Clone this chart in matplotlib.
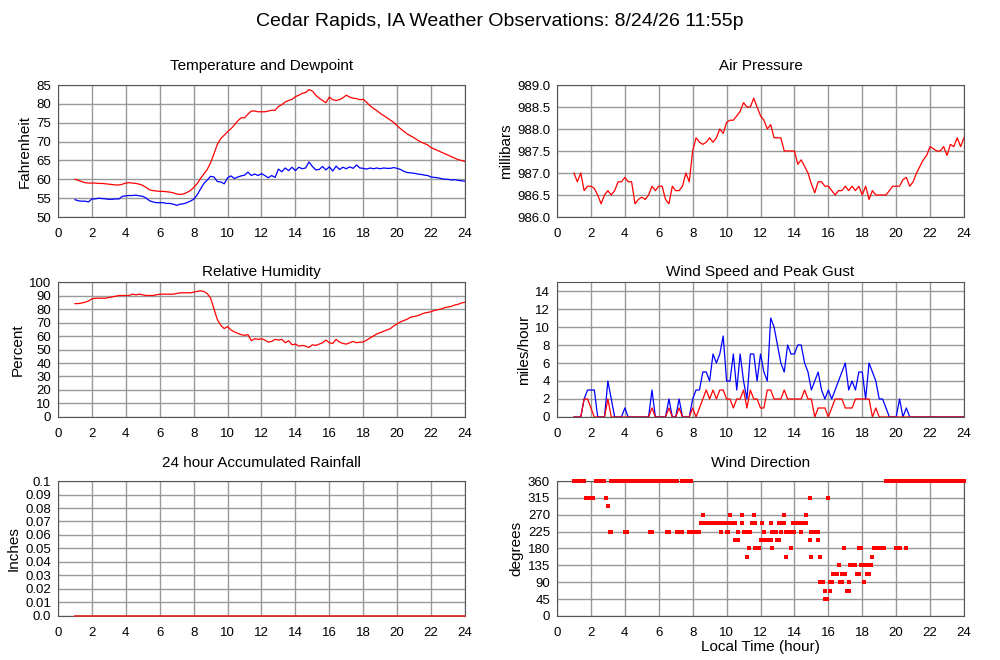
import numpy as np
import matplotlib
matplotlib.use("Agg")
import matplotlib.pyplot as plt

plt.rcParams['font.family'] = ['Liberation Sans', 'DejaVu Sans']

# observation times, every 12 minutes from 1:00 to 24:00
hours = np.linspace(1.0, 24.0, 116)

temp_f = [
    60.0, 59.7, 59.4, 59.1, 59.0,
    59.0, 59.0, 58.9, 58.9, 58.8,
    58.7, 58.6, 58.5, 58.5, 58.7,
    59.0, 59.1, 59.0, 58.9, 58.7,
    58.4, 57.8, 57.2, 57.0, 56.9,
    56.8, 56.8, 56.7, 56.6, 56.4,
    56.1, 56.0, 56.1, 56.5, 57.0,
    57.8, 58.8, 60.2, 61.4, 62.6,
    64.4, 66.8, 69.3, 70.8, 71.7,
    72.6, 73.4, 74.4, 75.5, 76.3,
    76.3, 77.3, 78.1, 78.1, 77.9,
    77.9, 77.9, 78.1, 78.3, 78.3,
    79.3, 79.8, 80.5, 80.9, 81.2,
    81.9, 82.3, 82.8, 83.0, 83.8,
    83.4, 82.3, 81.5, 80.9, 80.3,
    81.8, 81.1, 80.9, 81.1, 81.6,
    82.3, 81.8, 81.5, 81.4, 81.1,
    81.2, 80.4, 79.5, 78.8, 78.2,
    77.5, 76.9, 76.3, 75.7, 75.1,
    74.2, 73.4, 72.7, 72.0, 71.5,
    71.0, 70.4, 69.9, 69.5, 69.1,
    68.4, 68.0, 67.6, 67.2, 66.8,
    66.4, 66.0, 65.6, 65.2, 65.0,
    64.7,
]

dewpoint_f = [
    54.6, 54.3, 54.2, 54.2, 54.0,
    54.8, 54.8, 55.0, 54.9, 54.8,
    54.7, 54.7, 54.8, 54.8, 55.5,
    55.6, 55.7, 55.7, 55.8, 55.6,
    55.5, 55.0, 54.3, 54.0, 53.8,
    53.8, 53.8, 53.6, 53.6, 53.4,
    53.1, 53.4, 53.5, 53.8, 54.2,
    54.7, 55.8, 57.4, 58.9, 59.8,
    60.8, 60.6, 59.4, 59.3, 58.8,
    60.4, 60.9, 60.2, 60.6, 60.9,
    61.1, 61.9, 61.0, 61.4, 61.0,
    61.5, 61.0, 60.4, 61.0, 60.5,
    62.7, 62.0, 63.0, 62.3, 63.2,
    62.3, 63.2, 62.8, 63.0, 64.6,
    63.4, 62.5, 62.6, 63.4, 62.5,
    63.3, 62.2, 63.5, 62.6, 63.2,
    62.8, 63.3, 62.9, 63.8, 63.0,
    62.9, 62.7, 63.0, 62.8, 63.0,
    62.8, 63.0, 62.9, 62.9, 63.1,
    62.9, 62.6, 62.1, 61.8, 61.7,
    61.6, 61.4, 61.3, 61.1, 61.0,
    60.6, 60.5, 60.4, 60.2, 60.0,
    60.0, 59.8, 59.9, 59.7, 59.6,
    59.5,
]

pressure_mb = [
    987.0, 986.8, 987.0, 986.6, 986.7,
    986.7, 986.65, 986.5, 986.3, 986.5,
    986.6, 986.5, 986.6, 986.8, 986.8,
    986.9, 986.8, 986.8, 986.3, 986.4,
    986.45, 986.4, 986.5, 986.7, 986.6,
    986.7, 986.7, 986.4, 986.3, 986.7,
    986.6, 986.6, 986.7, 987.0, 986.8,
    987.5, 987.8, 987.7, 987.65, 987.7,
    987.8, 987.7, 987.8, 988.0, 987.9,
    988.15, 988.2, 988.2, 988.3, 988.4,
    988.6, 988.5, 988.5, 988.7, 988.5,
    988.3, 988.2, 988.0, 988.1, 987.8,
    987.8, 987.8, 987.5, 987.5, 987.5,
    987.5, 987.2, 987.3, 987.15, 987.0,
    986.75, 986.55, 986.8, 986.8, 986.7,
    986.7, 986.6, 986.5, 986.6, 986.6,
    986.7, 986.6, 986.7, 986.6, 986.7,
    986.5, 986.7, 986.4, 986.6, 986.5,
    986.5, 986.5, 986.5, 986.6, 986.7,
    986.7, 986.7, 986.85, 986.9, 986.7,
    986.8, 987.0, 987.15, 987.3, 987.4,
    987.6, 987.55, 987.5, 987.5, 987.6,
    987.4, 987.65, 987.6, 987.8, 987.6,
    987.8,
]

rel_humidity = [
    84.0, 84.0, 84.5, 85.0, 86.0,
    87.5, 88.0, 88.0, 88.0, 88.0,
    88.5, 89.0, 89.5, 90.0, 90.0,
    90.0, 90.0, 91.0, 90.5, 91.0,
    90.5, 90.0, 90.0, 90.0, 90.5,
    91.0, 91.0, 91.0, 91.0, 91.0,
    91.5, 92.0, 92.0, 92.0, 92.0,
    92.5, 93.0, 93.5, 93.0, 91.5,
    88.0, 80.0, 72.0, 68.0, 65.5,
    67.0, 64.5, 63.0, 62.0, 61.0,
    60.5, 61.0, 56.5, 58.0, 57.5,
    58.0, 57.0, 55.5, 56.0, 57.5,
    57.0, 57.5, 55.0, 56.5, 53.5,
    54.0, 52.5, 53.0, 52.5, 51.5,
    53.5, 53.0, 54.0, 55.0, 57.0,
    55.0, 54.5, 57.5, 55.5, 54.5,
    54.0, 55.0, 56.0, 55.0, 55.5,
    55.5, 57.0, 58.5, 60.0, 61.5,
    62.5, 63.5, 64.5, 65.5, 67.5,
    69.0, 70.5, 71.5, 72.5, 74.0,
    74.5, 75.0, 76.0, 77.0, 77.5,
    78.0, 79.0, 79.5, 80.0, 81.0,
    81.5, 82.0, 83.0, 83.5, 84.5,
    85.0,
]

wind_speed = [
    0, 0, 0, 2, 2,
    1, 0, 0, 0, 0,
    2, 0, 0, 0, 0,
    0, 0, 0, 0, 0,
    0, 0, 0, 1, 0,
    0, 0, 0, 1, 0,
    0, 1, 0, 0, 0,
    1, 0, 1, 2, 3,
    2, 3, 2, 3, 3,
    2, 2, 1, 2, 2,
    3, 1, 3, 2, 2,
    1, 1, 3, 3, 2,
    2, 2, 3, 2, 2,
    2, 2, 2, 3, 2,
    2, 0, 1, 1, 1,
    0, 1, 2, 2, 2,
    1, 1, 1, 2, 2,
    2, 2, 2, 0, 1,
    0, 0, 0, 0, 0,
    0, 0, 0, 0, 0,
    0, 0, 0, 0, 0,
    0, 0, 0, 0, 0,
    0, 0, 0, 0, 0,
    0,
]

peak_gust = [
    0, 0, 0, 2, 3,
    3, 3, 0, 0, 0,
    4, 2, 0, 0, 0,
    1, 0, 0, 0, 0,
    0, 0, 0, 3, 0,
    0, 0, 0, 2, 0,
    0, 2, 0, 0, 0,
    2, 3, 3, 5, 5,
    4, 7, 6, 7, 9,
    4, 4, 7, 3, 7,
    4, 2, 7, 7, 4,
    7, 5, 4, 11, 10,
    8, 6, 5, 8, 7,
    7, 8, 8, 6, 5,
    3, 4, 5, 3, 2,
    3, 2, 3, 4, 5,
    6, 3, 4, 3, 5,
    5, 2, 6, 5, 4,
    2, 2, 1, 0, 0,
    0, 2, 0, 1, 0,
    0, 0, 0, 0, 0,
    0, 0, 0, 0, 0,
    0, 0, 0, 0, 0,
    0,
]

rain_hours = [1.0, 24.0]
rain_inches = [0.0, 0.0]

# wind direction observations, grouped by compass point
dir_360 = [1.0, 1.1, 1.2, 1.3, 1.4, 1.5, 1.6,
           2.3, 2.4, 2.5, 2.6, 2.7, 2.8,
           3.2, 3.3, 3.4, 3.5, 3.6, 3.7, 3.8, 3.9, 4.0,
           4.2, 4.3, 4.4, 4.5, 4.6, 4.7, 4.8, 4.9, 5.0, 5.1, 5.2, 5.3, 5.4, 5.5,
           5.6, 5.7, 5.8, 5.9, 6.0, 6.1, 6.2, 6.3, 6.4, 6.5,
           6.7, 6.8, 6.9, 7.0, 7.1,
           7.4, 7.5, 7.6, 7.7, 7.8, 7.9,
           19.4, 19.5, 19.6, 19.7, 19.8, 19.9, 20.0,
           20.2, 20.3, 20.4, 20.5, 20.6, 20.7, 20.8, 20.9, 21.0, 21.1, 21.2,
           21.3, 21.4, 21.5, 21.6, 21.7, 21.8, 21.9, 22.0, 22.1, 22.2, 22.3,
           22.4, 22.5, 22.6, 22.7, 22.8, 22.9, 23.0, 23.1, 23.2, 23.3, 23.4,
           23.5, 23.6, 23.7, 23.8, 23.9, 24.0]
dir_315 = [1.7, 1.8, 1.9, 2.0, 2.1, 2.9, 14.9, 16.0]
dir_292 = [3.0]
dir_270 = [8.6, 10.2, 10.9, 11.6, 13.4, 14.7]
dir_248 = [8.5, 8.6, 8.7, 8.8, 8.9, 9.0, 9.1, 9.2, 9.3, 9.4, 9.5, 9.6,
           9.8, 10.0, 10.2, 10.3, 10.4, 10.5, 10.9, 11.5, 11.7, 12.1, 12.6,
           13.1, 13.2, 13.3, 13.4, 13.9, 14.0, 14.1, 14.2, 14.3, 14.4, 14.5,
           14.6, 14.7]
dir_225 = [3.1, 3.2, 4.0, 4.1, 5.5, 5.6, 6.5, 6.6, 7.1, 7.2, 7.3, 7.4,
           7.8, 7.9, 8.0, 8.1, 8.2, 8.3, 8.4, 9.7, 10.0, 10.1, 10.7, 11.0,
           11.1, 11.2, 11.4, 12.2, 12.7, 12.9, 13.2, 13.5, 13.6, 13.7, 13.8,
           14.0, 14.4, 15.0, 15.1, 15.2, 15.3, 15.4]
dir_202 = [10.5, 10.6, 10.7, 12.0, 12.2, 12.3, 12.4, 12.5, 12.6, 13.0,
           13.1, 14.9, 15.4]
dir_180 = [11.3, 11.7, 11.8, 11.9, 12.7, 13.8, 16.9, 17.8, 17.9, 18.7,
           18.8, 18.9, 19.0, 19.1, 19.2, 19.3, 20.0, 20.1, 20.2, 20.6]
dir_158 = [11.2, 13.5, 15.0, 15.5, 18.6]
dir_135 = [16.6, 17.3, 17.5, 17.6, 17.9, 18.0, 18.2, 18.4, 18.5]
dir_112 = [16.3, 16.4, 16.5, 16.8, 17.0, 17.7, 17.8, 18.3, 18.4]
dir_90 = [15.5, 15.6, 15.7, 16.1, 16.2, 16.7, 16.8, 17.2, 18.1]
dir_68 = [15.8, 16.1, 17.1, 17.2]
dir_45 = [15.8, 15.9]

x_ticks = list(range(0, 25, 2))

fig = plt.figure(figsize=(10, 6.6), dpi=100)
fig.suptitle("Cedar Rapids, IA Weather Observations: 8/24/26 11:55p",
             fontsize=14, y=0.98)

left_x, right_x, width = 0.058, 0.557, 0.407
rows = [(0.6712, 0.2), (0.3682, 0.2045), (0.0667, 0.2045)]
title_pads = [11, 4, 10]


def make_axes(x0, row, title, ylabel):
    ax = fig.add_axes([x0, rows[row][0], width, rows[row][1]])
    ax.set_xlim(0, 24)
    ax.set_xticks(x_ticks)
    ax.grid(True, color='#999999', linewidth=1)
    ax.set_axisbelow(True)
    ax.tick_params(length=0, labelsize=9.5)
    ax.tick_params(axis='x', pad=8)
    ax.tick_params(axis='y', pad=5)
    for s in ax.spines.values():
        s.set_color('#555555')
    ax.set_title(title, fontsize=11, pad=title_pads[row])
    ax.set_ylabel(ylabel, fontsize=11, labelpad=3)
    return ax


# temperature
ax = make_axes(left_x, 0, "Temperature and Dewpoint", "Fahrenheit")
ax.plot(hours, temp_f, color='red', lw=0.9)
ax.plot(hours, dewpoint_f, color='blue', lw=0.9)
ax.set_ylim(50, 85)
ax.set_yticks(range(50, 86, 5))

# pressure
ax = make_axes(right_x, 0, "Air Pressure", "millibars")
ax.plot(hours, pressure_mb, color='red', lw=0.9)
ax.set_ylim(986, 989)
p_ticks = np.arange(986.0, 989.01, 0.5)
ax.set_yticks(p_ticks)
ax.set_yticklabels([f"{v:.1f}" for v in p_ticks])

# humidity
ax = make_axes(left_x, 1, "Relative Humidity", "Percent")
ax.plot(hours, rel_humidity, color='red', lw=0.9)
ax.set_ylim(0, 100)
ax.set_yticks(range(0, 101, 10))

# wind
ax = make_axes(right_x, 1, "Wind Speed and Peak Gust", "miles/hour")
ax.plot(hours, peak_gust, color='blue', lw=0.9)
ax.plot(hours, wind_speed, color='red', lw=0.9)
ax.set_ylim(0, 15)
ax.set_yticks(range(0, 15, 2))

# rainfall
ax = make_axes(left_x, 2, "24 hour Accumulated Rainfall", "Inches")
ax.plot(rain_hours, rain_inches, color='#dd3333', lw=1.3, zorder=5,
        clip_on=False)
ax.set_ylim(0, 0.1)
r_ticks = np.arange(0, 0.101, 0.01)
ax.set_yticks(r_ticks)
ax.set_yticklabels(["0.0"] + [f"{v:.2f}" for v in r_ticks[1:-1]] + ["0.1"])

# wind direction
ax = make_axes(right_x, 2, "Wind Direction", "degrees")
groups = [(dir_360, 360), (dir_315, 315), (dir_292, 292.5), (dir_270, 270),
          (dir_248, 247.5), (dir_225, 225), (dir_202, 202.5), (dir_180, 180),
          (dir_158, 157.5), (dir_135, 135), (dir_112, 112.5), (dir_90, 90),
          (dir_68, 67.5), (dir_45, 45)]
for hrs, deg in groups:
    ax.scatter(hrs, [deg] * len(hrs), marker='s', s=7, color='red',
               linewidths=0, clip_on=False, zorder=3)
ax.set_ylim(0, 360)
ax.set_yticks(range(0, 361, 45))
ax.set_xlabel("Local Time (hour)", fontsize=11, labelpad=1)

fig.savefig("out.png", dpi=100)
